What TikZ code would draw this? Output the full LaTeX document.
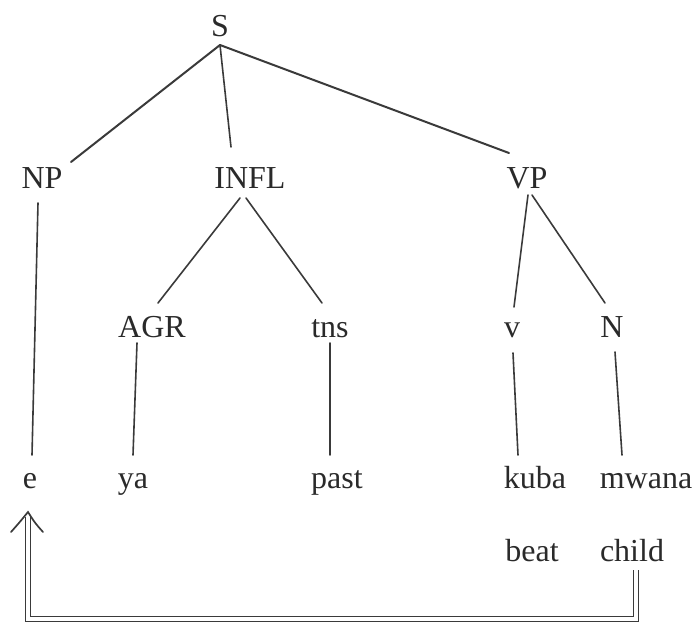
\documentclass[tikz,border=0pt]{standalone}
\usepackage{fontspec}
\setmainfont{Liberation Serif}
\usetikzlibrary{arrows.meta}
\definecolor{ink}{HTML}{3A3A3A}
\definecolor{txt}{HTML}{2A2A2A}
\begin{document}
\begin{tikzpicture}[x=1pt,y=-1pt,
  lab/.style={inner sep=0pt, anchor=base, text=txt, font=\fontsize{32}{38}\selectfont},
  ln/.style={draw=ink, line width=1.6pt, line cap=round},
  lnb/.style={ln, line width=2pt},
  dbl/.style={draw=ink, line width=1.3pt, double=white, double distance=3.5pt},
  barb/.style={draw=ink, line width=1.7pt, line cap=round, line join=miter}]
\useasboundingbox (0,0) rectangle (697,627);
% nodes
\node[lab] (S) at (220,36) {S};
\node[lab] (NP) at (42,188) {NP};
\node[lab] (INFL) at (250,188) {INFL};
\node[lab] (VP) at (527,188) {VP};
\node[lab] (AGR) at (152,337) {AGR};
\node[lab] (tns) at (330,337) {tns};
\node[lab] (v) at (512,337) {v};
\node[lab] (N) at (612,337) {N};
\node[lab] (e) at (30,488) {e};
\node[lab] (ya) at (133,488) {ya};
\node[lab] (past) at (337,488) {past};
\node[lab] (kuba) at (535,488) {kuba};
\node[lab] (mwana) at (646,488) {mwana};
\node[lab] (beat) at (532,561) {beat};
\node[lab] (child) at (632,561) {child};
\coordinate (tip) at ([shift={(-2,24)}]e.base);
% connectors
\draw[lnb] ([shift={(0,9)}]S.base) -- ([shift={(29,-26)}]NP.base);
\draw[ln] ([shift={(0,9)}]S.base) -- ([shift={(-19,-41)}]INFL.base);
\draw[lnb] ([shift={(0,9)}]S.base) -- ([shift={(-18,-35)}]VP.base);
\draw[ln] ([shift={(-4,15)}]NP.base) -- ([shift={(2,-33)}]e.base);
\draw[ln] ([shift={(-10,10)}]INFL.base) -- ([shift={(6,-34)}]AGR.base);
\draw[ln] ([shift={(-4,10)}]INFL.base) -- ([shift={(-8,-34)}]tns.base);
\draw[ln] ([shift={(1,7)}]VP.base) -- ([shift={(2,-30)}]v.base);
\draw[ln] ([shift={(5,7)}]VP.base) -- ([shift={(-7,-34)}]N.base);
\draw[ln] ([shift={(-15,6)}]AGR.base) -- ([shift={(0,-33)}]ya.base);
\draw[ln] ([shift={(0,6)}]tns.base) -- ([shift={(-7,-33)}]past.base);
\draw[ln] ([shift={(1,16)}]v.base) -- ([shift={(-17,-33)}]kuba.base);
\draw[ln] ([shift={(3,15)}]N.base) -- ([shift={(-24,-33)}]mwana.base);
\draw[dbl] ([shift={(4,9)}]child.base) -- ++(0,49) -| ([shift={(0,5)}]tip);
\draw[barb] ([shift={(-17,20)}]tip) .. controls ([shift={(-9,11)}]tip) .. (tip)
            .. controls ([shift={(7,11)}]tip) .. ([shift={(15,20)}]tip);
\end{tikzpicture}
\end{document}
